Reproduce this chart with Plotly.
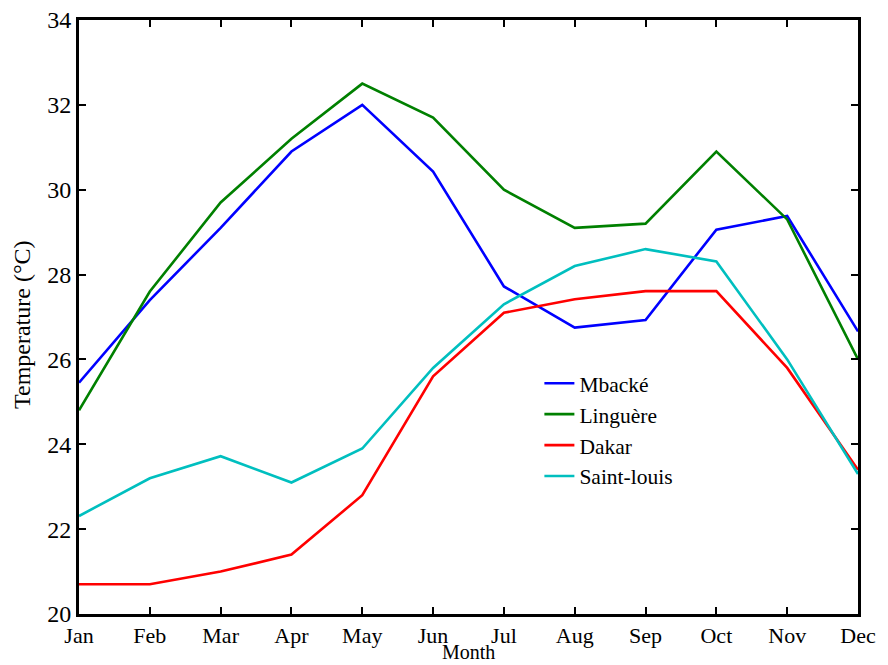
import plotly.graph_objects as go

months = ["Jan", "Feb", "Mar", "Apr", "May", "Jun", "Jul", "Aug", "Sep", "Oct", "Nov", "Dec"]

mbacke = [25.45, 27.4, 29.1, 30.9, 32.0, 30.43, 27.72, 26.75, 26.93, 29.06, 29.38, 26.66]
linguere = [24.8, 27.6, 29.7, 31.2, 32.5, 31.7, 30.0, 29.1, 29.2, 30.9, 29.3, 26.0]
dakar = [20.7, 20.7, 21.0, 21.4, 22.8, 25.6, 27.1, 27.42, 27.61, 27.61, 25.8, 23.4]
saint_louis = [22.31, 23.2, 23.72, 23.1, 23.9, 25.8, 27.3, 28.2, 28.6, 28.31, 26.0, 23.3]

series = [
    ("Mbacké", mbacke, "#0000FF"),
    ("Linguère", linguere, "#008000"),
    ("Dakar", dakar, "#FF0000"),
    ("Saint-louis", saint_louis, "#00BFBF"),
]

x = list(range(len(months)))

fig = go.Figure()
for name, vals, color in series:
    fig.add_trace(go.Scatter(x=x, y=vals, mode="lines", name=name,
                             line=dict(color=color, width=2.6)))

font_family = "Liberation Serif"
axis_common = dict(
    showline=True, linecolor="black", linewidth=3, mirror="ticks",
    ticks="inside", ticklen=7, tickwidth=2, tickcolor="black",
    showgrid=False, zeroline=False, automargin=False,
)

fig.update_layout(
    width=888, height=665,
    margin=dict(l=79, r=30, t=20, b=51),
    paper_bgcolor="white", plot_bgcolor="white",
    font=dict(family=font_family, color="black"),
    xaxis=dict(range=[0, 11], tickvals=x, ticktext=months,
               tickfont=dict(family=font_family, size=22, color="black"),
               **axis_common),
    yaxis=dict(range=[20, 34], tickvals=list(range(20, 35, 2)),
               tickfont=dict(family=font_family, size=24, color="black"),
               **axis_common),
    legend=dict(x=0.591, y=0.423, xanchor="left", yanchor="top",
                bgcolor="rgba(0,0,0,0)", borderwidth=0,
                font=dict(family=font_family, size=21.5, color="black"),
                tracegroupgap=0, itemwidth=30),
    showlegend=True,
    annotations=[
        dict(text="Temperature (°C)", xref="paper", yref="paper", x=0, y=0.5,
             xanchor="center", yanchor="middle", xshift=-57, yshift=-8,
             textangle=-90, showarrow=False,
             font=dict(family=font_family, size=24, color="black")),
        dict(text="Month", xref="paper", yref="paper", x=0.5, y=0,
             xanchor="center", yanchor="bottom", yshift=-51,
             showarrow=False,
             font=dict(family=font_family, size=20, color="black")),
    ],
)

fig.write_html("out.html")
